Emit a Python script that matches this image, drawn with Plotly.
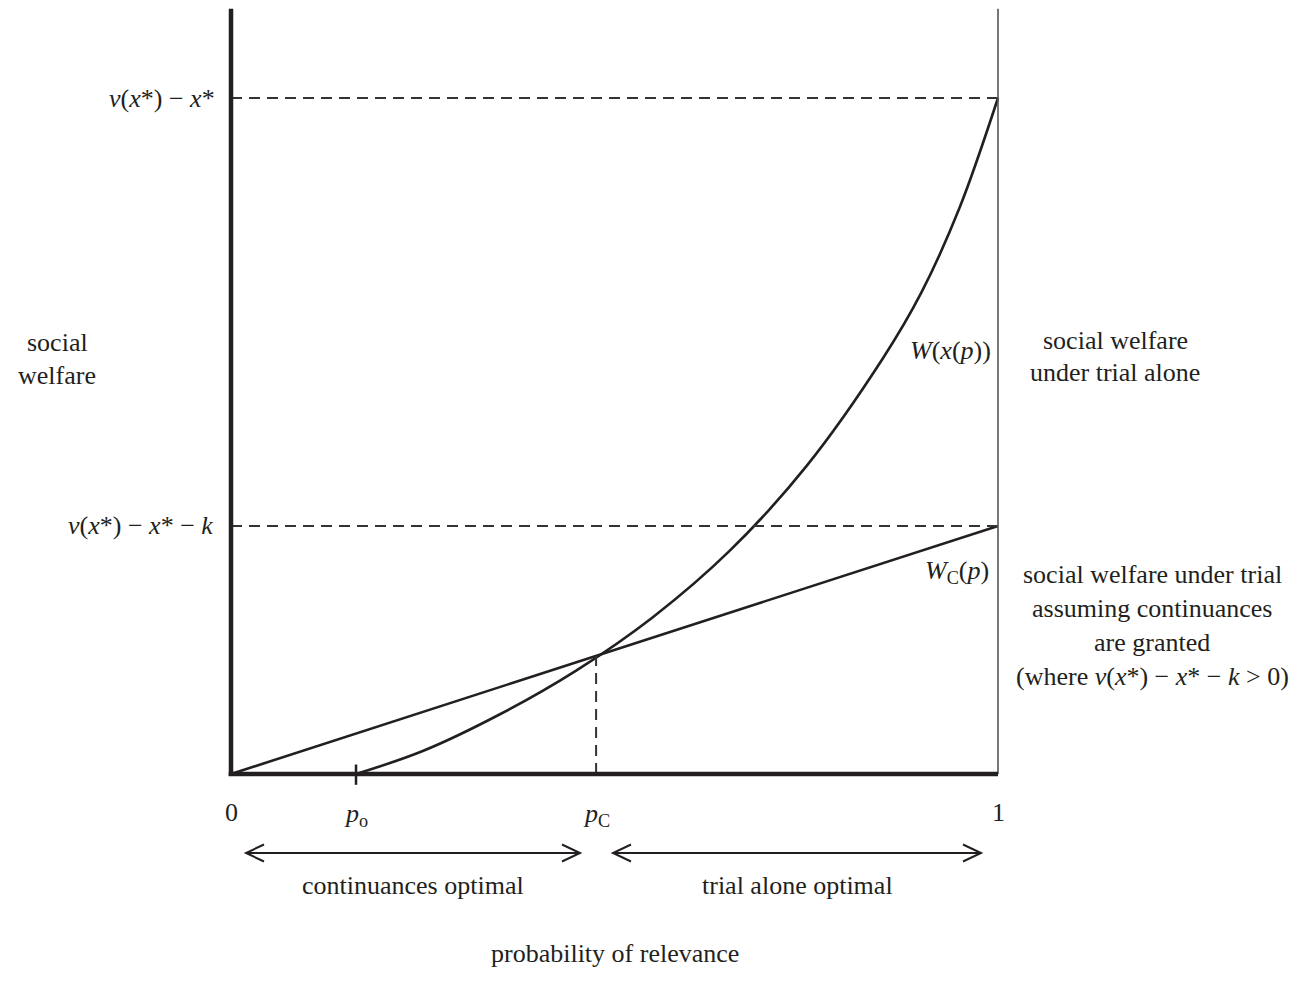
import plotly.graph_objects as go

# ---- data ----
p_curve = [0.163, 0.25, 0.35, 0.45, 0.55, 0.65, 0.75, 0.85, 0.90, 0.95, 1.0]
w_curve = [0.0, 0.034, 0.088, 0.153, 0.232, 0.330, 0.455, 0.615, 0.712, 0.838, 1.0]
p_line = [0.0, 1.0]
w_line = [0.0, 0.367]
level_top = 1.0      # v(x*) - x*
level_k = 0.367      # v(x*) - x* - k
p_o = 0.163
p_c = 0.476
y_axis_top = 1.132

INK = "#231f20"
FONT = "Liberation Serif"
FS = 26

# page offset of the figure (default body margin)
OFF = 8
W_PAGE, H_PAGE = 1302, 993

# pixel helpers for text placement (page pixels)
X0PX, X1PX = 231.0, 998.0
Y0PX, Y1PX = 774.0, 98.0
def px2x(px):
    return (px - X0PX) / (X1PX - X0PX)
def py2y(py):
    return (Y0PX - py) / (Y0PX - Y1PX)

fig = go.Figure()

fig.add_trace(go.Scatter(x=p_line, y=w_line, mode="lines",
                         line=dict(color=INK, width=2.6), cliponaxis=False,
                         hoverinfo="skip", showlegend=False))
fig.add_trace(go.Scatter(x=p_curve, y=w_curve, mode="lines",
                         line=dict(color=INK, width=2.6, shape="spline", smoothing=1.0),
                         cliponaxis=False, hoverinfo="skip", showlegend=False))

shapes = []
for lv in (level_top, level_k):
    shapes.append(dict(type="line", x0=0, x1=1, y0=lv, y1=lv,
                       line=dict(color="#333333", width=2, dash="11px,7px")))
shapes.append(dict(type="line", x0=p_c, x1=p_c, y0=0, y1=w_line[1] * p_c,
                   line=dict(color="#333333", width=2, dash="11px,7px")))
shapes.append(dict(type="line", x0=1, x1=1, y0=0, y1=y_axis_top,
                   line=dict(color="#555555", width=1.6)))
shapes.append(dict(type="line", x0=0, x1=0, y0=-0.003, y1=y_axis_top,
                   line=dict(color=INK, width=4.5)))
shapes.append(dict(type="line", x0=-0.003, x1=1.0, y0=0, y1=0,
                   line=dict(color=INK, width=4.5)))
shapes.append(dict(type="line", x0=p_o, x1=p_o, y0=-0.016, y1=0.014,
                   line=dict(color=INK, width=2.5)))

# double-headed arrows drawn as shapes
ya = py2y(853)
hl = 18.0 / (X1PX - X0PX)   # chevron length
hh = 8.5 / (Y0PX - Y1PX)    # chevron half height
for a, b in ((px2x(246), px2x(580)), (px2x(613), px2x(981))):
    shapes.append(dict(type="line", x0=a, x1=b, y0=ya, y1=ya,
                       line=dict(color=INK, width=2)))
    shapes.append(dict(type="path",
                       path=f"M {a+hl},{ya+hh} L {a},{ya} L {a+hl},{ya-hh}",
                       line=dict(color=INK, width=2)))
    shapes.append(dict(type="path",
                       path=f"M {b-hl},{ya+hh} L {b},{ya} L {b-hl},{ya-hh}",
                       line=dict(color=INK, width=2)))

ann = []
def txt(text, x, y, xanchor="center", yanchor="middle", size=FS, xshift=0):
    ann.append(dict(text=text, x=x, y=y, xref="x", yref="y", showarrow=False,
                    xanchor=xanchor, yanchor=yanchor, xshift=xshift,
                    font=dict(family=FONT, size=size, color=INK)))

txt("<i>ν</i>(<i>x</i>*) − <i>x</i>*", 0, level_top, xanchor="right", xshift=-14)
txt("<i>ν</i>(<i>x</i>*) − <i>x</i>* − <i>k</i>", 0, level_k, xanchor="right", xshift=-16)
txt("social", px2x(57), py2y(342))
txt("welfare", px2x(57), py2y(375))
txt("<i>W</i>(<i>x</i>(<i>p</i>))", px2x(993), py2y(350), xanchor="right")
txt("social welfare", px2x(1115), py2y(340))
txt("under trial alone", px2x(1115), py2y(372))
txt("<i>W</i><sub>C</sub>(<i>p</i>)", px2x(991), py2y(572), xanchor="right")
for i, line in enumerate(["social welfare under trial", "assuming continuances",
                          "are granted", "(where <i>ν</i>(<i>x</i>*) − <i>x</i>* − <i>k</i> > 0)"]):
    txt(line, px2x(1152), py2y(574 + 34 * i))
txt("0", 0, py2y(812))
txt("1", 1, py2y(812))
txt("<i>p</i><sub>o</sub>", p_o, py2y(815))
txt("<i>p</i><sub>C</sub>", p_c, py2y(815))
txt("continuances optimal", px2x(413), py2y(885))
txt("trial alone optimal", px2x(797), py2y(885))
txt("probability of relevance", px2x(615), py2y(953))

fig.update_layout(
    width=W_PAGE - OFF, height=H_PAGE - OFF,
    margin=dict(l=0, r=0, t=0, b=0),
    paper_bgcolor="white", plot_bgcolor="white",
    xaxis=dict(range=[px2x(OFF), px2x(W_PAGE)], visible=False, fixedrange=True),
    yaxis=dict(range=[py2y(H_PAGE), py2y(OFF)], visible=False, fixedrange=True),
    shapes=shapes, annotations=ann, showlegend=False,
)

fig.write_html("out.html")
